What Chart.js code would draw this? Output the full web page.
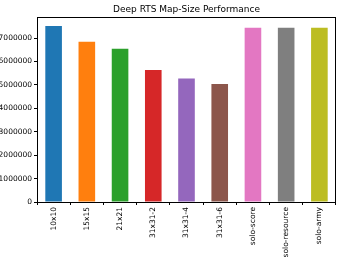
<!DOCTYPE html>
<html>
<head>
<meta charset="utf-8">
<script src="https://cdn.jsdelivr.net/npm/chart.js@4"></script>
<style>
  body { margin: 0; background: #fff; }
  #wrap { width: 346px; height: 260px; }
</style>
</head>
<body>
<div id="wrap"><canvas id="MapChart"></canvas></div>
<script>
// data
const maps = ['10x10', '15x15', '21x21', '31x31-2', '31x31-4', '31x31-6', 'solo-score', 'solo-resource', 'solo-army'];
const scores = [7520000, 6840000, 6540000, 5640000, 5270000, 5040000, 7440000, 7440000, 7440000];
const barColors = ['#1f77b4', '#ff7f0e', '#2ca02c', '#d62728', '#9467bd', '#8c564b', '#e377c2', '#7f7f7f', '#bcbd22'];
const yTicks = [0, 1000000, 2000000, 3000000, 4000000, 5000000, 6000000, 7000000];
const chartTitle = 'Deep RTS Map-Size Performance';

const font = "'DejaVu Sans', sans-serif";

// frame + title drawn by hand, matplotlib style
const framePlugin = {
    id: 'frame',
    afterDraw(chart) {
        const ctx = chart.ctx;
        const a = chart.chartArea;
        ctx.save();
        ctx.strokeStyle = '#000';
        ctx.lineWidth = 1;
        ctx.strokeRect(Math.round(a.left) + 0.5, Math.round(a.top) + 0.5,
            Math.round(a.right - a.left) - 1, Math.round(a.bottom - a.top));
        ctx.fillStyle = '#000';
        ctx.font = '9px ' + font;
        ctx.textAlign = 'center';
        ctx.textBaseline = 'alphabetic';
        ctx.fillText(chartTitle, (a.left + a.right) / 2, a.top - 5);
        ctx.restore();
    }
};

var ctx = document.getElementById('MapChart').getContext('2d');
var myBarChart = new Chart(ctx, {
    type: 'bar',
    data: {
        labels: maps,
        datasets: [{
            data: scores,
            backgroundColor: barColors,
            barPercentage: 0.5,
            categoryPercentage: 1.0
        }]
    },
    options: {
        responsive: true,
        maintainAspectRatio: false,
        animation: false,
        layout: { padding: { top: 17, right: 10, left: 0, bottom: 0 } },
        plugins: {
            legend: { display: false },
            title: { display: false },
            tooltip: { enabled: false }
        },
        scales: {
            x: {
                grid: { drawOnChartArea: false, drawTicks: true, tickLength: 3, color: '#000' },
                border: { display: false },
                ticks: {
                    color: '#000',
                    font: { family: font, size: 7.5 },
                    minRotation: 90,
                    maxRotation: 90,
                    padding: 2,
                    autoSkip: false
                },
                afterFit(scale) { scale.height = 58; }
            },
            y: {
                min: 0,
                max: 7900000,
                grid: { drawOnChartArea: false, drawTicks: true, tickLength: 3, color: '#000' },
                border: { display: false },
                ticks: {
                    color: '#000',
                    font: { family: font, size: 7.5 },
                    padding: 2,
                    autoSkip: false,
                    callback: v => String(v)
                },
                afterBuildTicks(scale) {
                    scale.ticks = yTicks.map(v => ({ value: v }));
                },
                afterFit(scale) { scale.width = 37; }
            }
        }
    },
    plugins: [framePlugin]
});
</script>
</body>
</html>
